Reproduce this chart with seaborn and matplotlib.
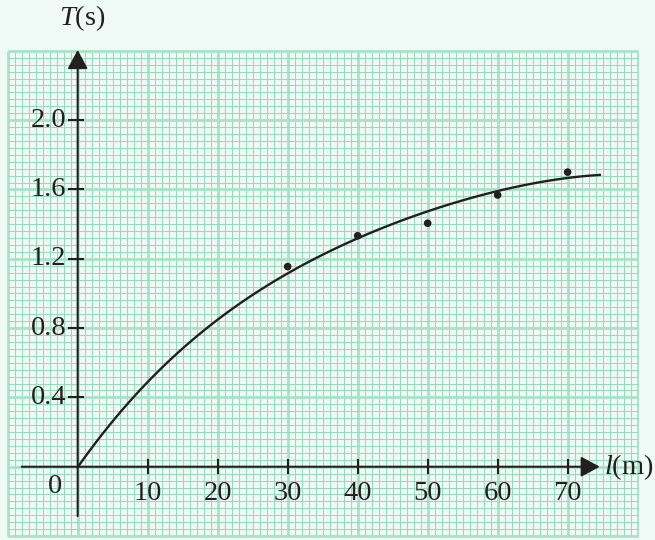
import numpy as np
import matplotlib
matplotlib.use('Agg')
import matplotlib.pyplot as plt
import seaborn as sns
import pandas as pd

# values
curve_l = [0, 5, 10, 15, 20, 25, 30, 35, 40, 45, 50, 55, 60, 65, 70, 74.6]
curve_T = [0, 0.265, 0.48, 0.675, 0.855, 1.0, 1.12, 1.225, 1.315, 1.395, 1.468, 1.535, 1.595, 1.64, 1.668, 1.68]
points_l = [30, 40, 50, 60, 70]
points_T = [1.155, 1.333, 1.405, 1.568, 1.70]
x_ticks = [10, 20, 30, 40, 50, 60, 70]
y_ticks = [0.4, 0.8, 1.2, 1.6, 2.0]
y_tick_labels = ['0.4', '0.8', '1.2', '1.6', '2.0']

ink = '#231f20'
bg = '#eff9f6'
minor_col = '#96dbbd'
major_col = '#a8e2c8'
fs = 20.5

plt.rcParams['font.family'] = ['Liberation Serif', 'DejaVu Serif']
plt.rcParams['mathtext.fontset'] = 'custom'
plt.rcParams['mathtext.rm'] = 'Liberation Serif'
plt.rcParams['mathtext.it'] = 'Liberation Serif:italic'

fig = plt.figure(figsize=(6.55, 5.4), dpi=100, facecolor=bg)
ax = fig.add_axes([0.0096, 0.0041, 0.966, 0.905])
ax.set_facecolor(bg)
ax.set_xlim(-10.2, 80.2)
ax.set_ylim(-0.41, 2.41)

# graph paper
for i in range(91):
    v = -10 + i
    major = (v % 10 == 0)
    ax.vlines(v, -0.4, 2.4, color=major_col if major else minor_col,
              lw=2.0 if major else 0.75, zorder=0)
for j in range(71):
    h = -0.4 + j * 0.04
    major = (j % 10 == 0)
    ax.hlines(h, -10, 80, color=major_col if major else minor_col,
              lw=2.0 if major else 0.75, zorder=0)

curve = pd.DataFrame({'l': curve_l, 'T': curve_T})
pts = pd.DataFrame({'l': points_l, 'T': points_T})
# smooth line through the read curve points
sns.regplot(data=curve, x='l', y='T', order=4, ci=None, scatter=False, truncate=True,
            line_kws=dict(color=ink, lw=1.7, zorder=4), ax=ax)
sns.scatterplot(data=pts, x='l', y='T', color=ink, s=30, edgecolor='none', ax=ax, zorder=5)

# axes with arrows
for s in ['top', 'right', 'left', 'bottom']:
    ax.spines[s].set_visible(False)
ax.annotate('', xy=(74.6, 0), xytext=(-8, 0),
            arrowprops=dict(arrowstyle='-|>,head_length=1.15,head_width=0.62',
                            lw=1.5, color=ink, shrinkA=0, shrinkB=0), zorder=6)
ax.annotate('', xy=(0, 2.405), xytext=(0, -0.285),
            arrowprops=dict(arrowstyle='-|>,head_length=1.15,head_width=0.62',
                            lw=1.5, color=ink, shrinkA=0, shrinkB=0), zorder=6)

ax.set_xticks([])
ax.set_yticks([])
ax.set_xlabel('')
ax.set_ylabel('')
for x in x_ticks:
    ax.plot([x, x], [-0.037, 0.037], color=ink, lw=1.5, zorder=6)
    ax.text(x, -0.152, str(x), ha='center', va='center', fontsize=fs, color=ink)
for y, lab in zip(y_ticks, y_tick_labels):
    ax.plot([-1.3, 0.8], [y, y], color=ink, lw=1.5, zorder=6)
    ax.text(-1.6, y, lab, ha='right', va='center', fontsize=fs, color=ink)

ax.text(-3.3, -0.115, '0', ha='center', va='center', fontsize=fs, color=ink)
ax.text(75.2, 0, r'$l$(m)', ha='left', va='center', fontsize=fs, color=ink, clip_on=False)
ax.text(-2.7, 2.59, r'$T$(s)', ha='left', va='center', fontsize=fs, color=ink, clip_on=False)

fig.savefig('out.png', dpi=100, facecolor=bg)
